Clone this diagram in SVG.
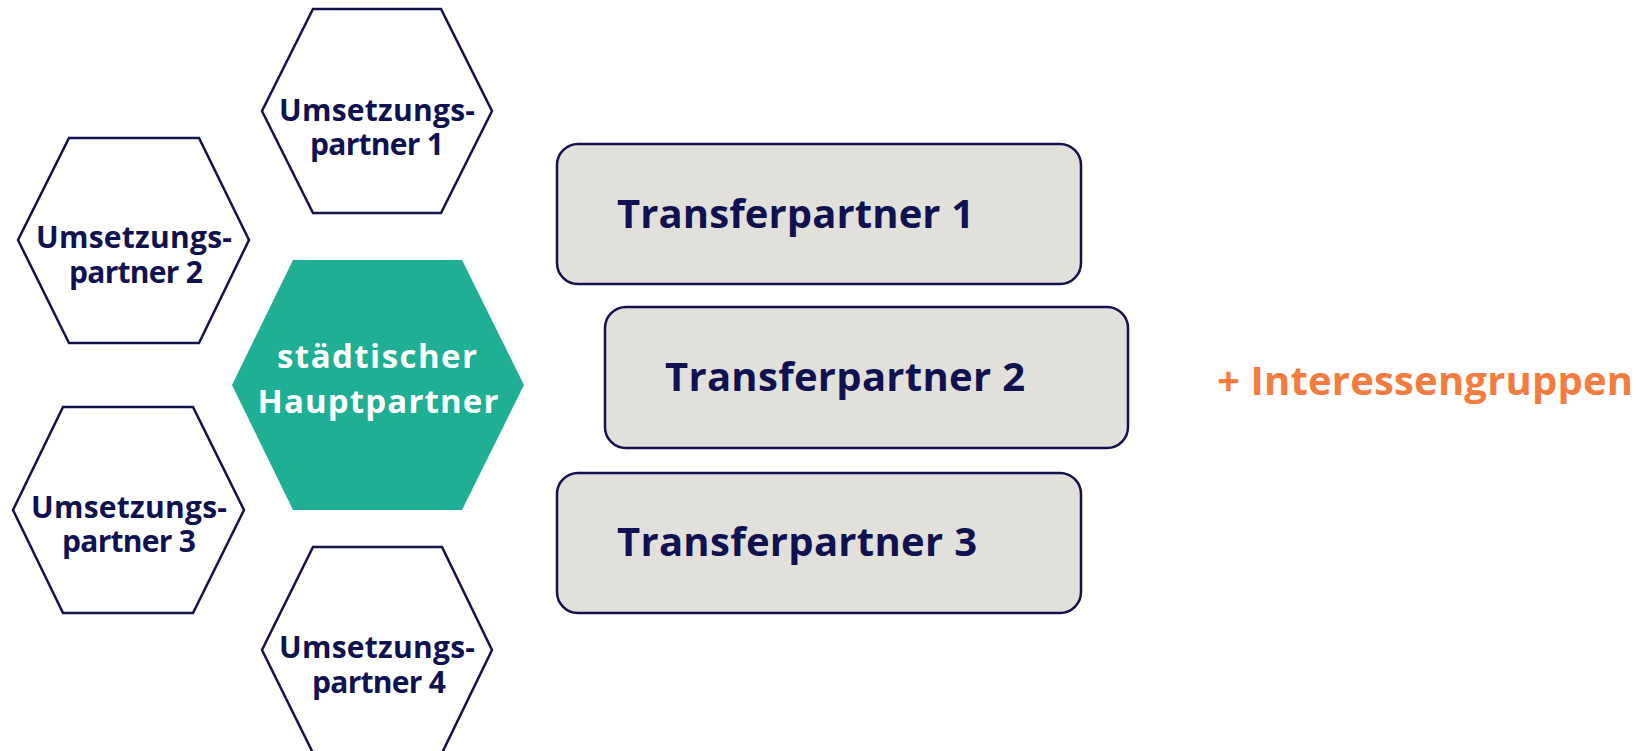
<svg xmlns="http://www.w3.org/2000/svg" width="1645" height="751" viewBox="0 0 1645 751">
<style>
.hex{fill:#ffffff;stroke:#13124F;stroke-width:2.5;stroke-linejoin:miter}
.main{fill:#1EAF95;stroke:none}
.box{fill:#E1E0DB;stroke:#13124F;stroke-width:2.5}
.t{font-family:"Open Sans","Noto Sans","DejaVu Sans",sans-serif;font-weight:700;fill:#0F1150}
.hs{font-size:30px;text-anchor:middle}
.ms{font-size:33px;text-anchor:middle;fill:#ffffff}
.bs{font-size:40px}
.is{font-size:40px;fill:#F47C3F}
</style>
<rect width="1645" height="751" fill="#ffffff"/>
<g id="connectors"></g>
<g id="umsetzungspartner1">
<polygon class="hex" points="313,9 441,9 492,111 441,213 313,213 262,111"/>
<text class="t hs" x="377" y="121" textLength="196">Umsetzungs-</text>
<text class="t hs" x="377" y="155" textLength="134">partner 1</text>
</g>
<g id="umsetzungspartner2">
<polygon class="hex" points="69,138 199,138 249,240 199,343 69,343 18,240"/>
<text class="t hs" x="134" y="248" textLength="196">Umsetzungs-</text>
<text class="t hs" x="136" y="283" textLength="134">partner 2</text>
</g>
<g id="hauptpartner">
<polygon class="main" points="293,260 462,260 524,385 462,510 293,510 232,385"/>
<text class="t ms" x="377" y="368" textLength="200">städtischer</text>
<text class="t ms" x="378" y="413" textLength="241">Hauptpartner</text>
</g>
<g id="umsetzungspartner3">
<polygon class="hex" points="63,407 193,407 244,510 193,613 63,613 13,510"/>
<text class="t hs" x="129" y="518" textLength="196">Umsetzungs-</text>
<text class="t hs" x="129" y="552" textLength="134">partner 3</text>
</g>
<g id="umsetzungspartner4">
<polygon class="hex" points="313,547 442,547 492,650 442,753 313,753 262,650"/>
<text class="t hs" x="377" y="658" textLength="196">Umsetzungs-</text>
<text class="t hs" x="379" y="693" textLength="134">partner 4</text>
</g>
<g id="transferpartner1">
<rect class="box" x="557" y="144" width="524" height="140" rx="21"/>
<text class="t bs" x="617" y="228" textLength="357">Transferpartner 1</text>
</g>
<g id="transferpartner2">
<rect class="box" x="605" y="307" width="523" height="141" rx="21"/>
<text class="t bs" x="665" y="391" textLength="360">Transferpartner 2</text>
</g>
<g id="transferpartner3">
<rect class="box" x="557" y="473" width="524" height="140" rx="21"/>
<text class="t bs" x="617" y="556" textLength="360">Transferpartner 3</text>
</g>
<g id="interessengruppen">
<text class="t is" x="1217" y="395" textLength="416">+ Interessengruppen</text>
</g>
</svg>
